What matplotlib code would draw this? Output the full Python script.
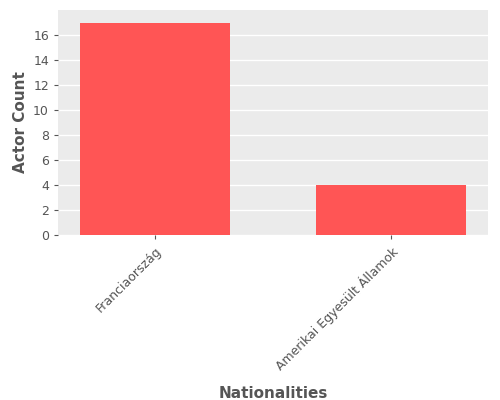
import matplotlib
matplotlib.use("Agg")
import matplotlib.pyplot as plt

categories = ["Franciaország", "Amerikai Egyesült Államok"]
counts = [17, 4]

fig = plt.figure(figsize=(5, 4), dpi=100)
ax = fig.add_axes([58/500, 1-235/400, 430/500, 225/400])
ax.set_facecolor("#EBEBEB")
ax.grid(True, axis="y", color="white", linewidth=1)
ax.set_axisbelow(True)
ax.bar(range(len(categories)), counts, width=0.636, color="#FF5555")
ax.set_xlim(-0.41, 1.41)
ax.set_ylim(0, 18)
ax.set_yticks(range(0, 18, 2))
ax.set_xticks(range(len(categories)))
ax.set_xticklabels(categories, rotation=45, ha="right", rotation_mode="anchor")
for s in ax.spines.values():
    s.set_visible(False)
ax.tick_params(colors="#555555", labelsize=9, length=3)
ax.tick_params(axis="x", labelcolor="#555555")
ax.set_xlabel("Nationalities", fontsize=11, color="#555555", labelpad=10)
ax.set_ylabel("Actor Count", fontsize=11, color="#555555", fontweight="bold")
ax.xaxis.label.set_fontweight("bold")
fig.savefig("out.png", dpi=100)
